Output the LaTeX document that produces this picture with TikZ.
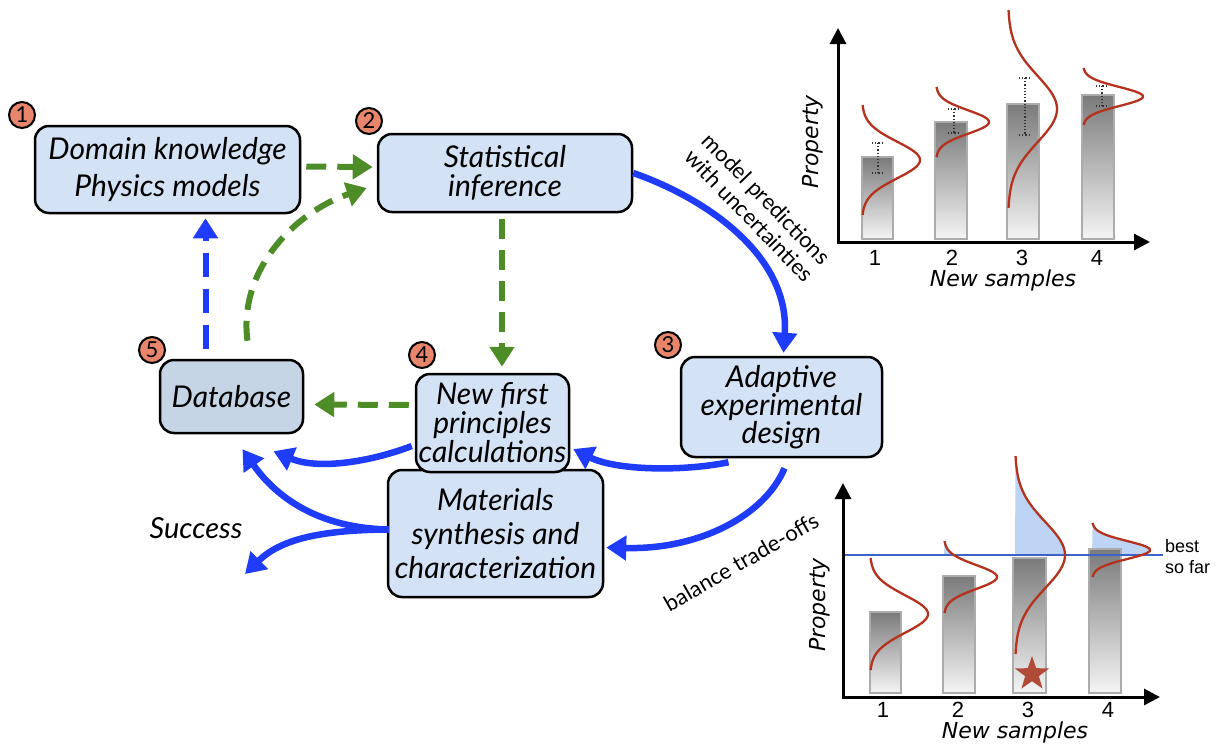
\documentclass[tikz,border=0pt]{standalone}
\usepackage{fontspec}
\setmainfont{Lato}
\newfontfamily\chartfont{DejaVu Sans}
\newfontfamily\arialfont{Liberation Sans}
\usetikzlibrary{arrows.meta,calc,shapes.geometric}
\definecolor{boxblue}{RGB}{212,226,245}
\definecolor{dbblue}{RGB}{197,213,230}
\definecolor{numfill}{RGB}{232,134,108}
\definecolor{arrblue}{RGB}{30,60,250}
\definecolor{arrgreen}{RGB}{78,140,40}
\definecolor{curvered}{RGB}{180,50,30}
\definecolor{shadeblue}{RGB}{190,212,245}
\definecolor{bestblue}{RGB}{60,100,200}
\definecolor{starred}{RGB}{175,75,55}
\newcommand\gausscurve[4]{\draw[gcurve] plot[domain=-3:3,samples=61,smooth,variable=\t] ({#1+#2*exp(-0.5*\t*\t)},{#3+#4*\t});}
\newcommand\gaussfill[5]{\fill[shadeblue] plot[domain=-3:#5,samples=40,smooth,variable=\t] ({#1+#2*exp(-0.5*\t*\t)},{#3+#4*\t}) -- (#1,{#3+#4*#5}) -- cycle;}
\begin{document}
\begin{tikzpicture}[x=1pt,y=-1pt,
  box/.style={draw=black, line width=2.5pt, rounded corners=14pt, fill=boxblue, align=center, inner sep=0pt},
  bf/.style={font=\fontsize{30}{#1}\selectfont\itshape},
  num/.style={circle, draw=black, line width=2pt, fill=numfill, minimum size=26pt, inner sep=0pt, font=\fontsize{22}{22}\selectfont},
  garrow/.style={draw=arrgreen, line width=6pt, dash pattern=on 20pt off 11pt, -{Triangle[length=20pt,width=24pt]}},
  barrow/.style={draw=arrblue, line width=6.5pt, -{Triangle[length=20pt,width=24pt]}},
  bdash/.style={draw=arrblue, line width=6pt, dash pattern=on 24pt off 12pt, -{Triangle[length=20pt,width=24pt]}},
  lbl/.style={font=\fontsize{22}{24}\selectfont, align=center},
  axis/.style={draw=black, line width=3pt, -{Triangle[length=16pt,width=16pt]}},
  barsh/.style={draw=gray!65, line width=2pt, top color=black!52, bottom color=black!4},
  gcurve/.style={draw=curvered, line width=2.3pt},
  errb/.style={draw=black!80, line width=1.2pt, dotted},
  tick/.style={font=\arialfont\fontsize{22}{22}\selectfont},
  axlbl/.style={font=\chartfont\itshape\fontsize{22}{22}\selectfont}
]
\useasboundingbox (0,0) rectangle (1220,744);

% ---------------- boxes ----------------
\node[box, bf=37, minimum width=265pt, minimum height=87pt] (b1) at (167.5,169.5) {Domain knowledge\\Physics models};
\node[box, bf=29, minimum width=254pt, minimum height=78pt] (b2) at (505,173) {Statistical\\inference};
\node[box, bf=28, minimum width=201pt, minimum height=100pt] (b3) at (781.5,407) {Adaptive\\experimental\\design};
\node[box, bf=34, minimum width=215pt, minimum height=127pt] (mat) at (495.5,533.5) {Materials\\synthesis and\\characterization};
\node[box, bf=29, minimum width=153pt, minimum height=98pt] (b4) at (492.5,423) {New first\\principles\\calculations};
\node[box, bf=30, fill=dbblue, minimum width=143pt, minimum height=73pt] (db) at (231.5,396.5) {Database};

% ---------------- numbers ----------------
\node[num] (n1) at (22,115) {1};
\node[num] (n2) at (369,121) {2};
\node[num] (n3) at (668,345) {3};
\node[num] (n4) at (422,355) {4};
\node[num] (n5) at (152,350) {5};

% ---------------- green dashed ----------------
\draw[garrow] ($(b1.east)+(5,-3)$) -- ($(b2.west)+(-4,-6)$);
\draw[garrow] ($(db.north)+(16,-18)$) .. controls (238,270) and (295,212) .. ($(b2.west)+(-10,15)$);
\draw[garrow] ($(b2.south)+(-3,6)$) -- ($(b4.north)+(9.5,-6)$);
\draw[garrow] ($(b4.west)+(-6,-18)$) -- ($(db.east)+(10,8)$);

% ---------------- blue dashed ----------------
\draw[bdash] ($(db.north)+(-26,-10)$) -- ($(b1.south)+(38,4)$);

% ---------------- blue solid ----------------
\draw[barrow] (b2.east) .. controls (705,198) and (790,255) .. ($(b3.north)+(2,-3)$);
\draw[barrow] ($(b3.south)+(-53,4)$) .. controls (680,472) and (615,470) .. ($(b4.east)+(3,26)$);
\draw[barrow] ($(b3.south)+(3,10)$) .. controls (765,515) and (700,550) .. ($(mat.east)+(2,14)$);
\draw[barrow] ($(b4.west)+(-3,23)$) .. controls (370,462) and (318,470) .. ($(db.south)+(42,17)$);
\coordinate (succ) at (245,574);
\draw[barrow] ($(mat.west)+(2,-4)$) .. controls (318,528) and (276,497) .. ($(db.south)+(11,15)$);
\draw[barrow] ($(mat.west)+(2,-4)$) .. controls (318,530) and (280,540) .. (succ);
\node[font=\fontsize{29}{29}\selectfont\itshape] (success) at (196,528) {Success};

% ---------------- labels ----------------
\node[lbl, rotate=-46] (mp) at (758,207) {model predictions\\with uncertainties};
\node[lbl, rotate=30] (bt) at (741,562) {balance trade-offs};

% ---------------- top chart ----------------
\draw[barsh] (862,157) rectangle (893,239);
\draw[barsh] (935,122) rectangle (967,239);
\draw[barsh] (1007,104) rectangle (1039,239);
\draw[barsh] (1082,95) rectangle (1114,239);
\draw[axis] (838,243.5) -- (838,28);
\draw[axis] (836.5,242) -- (1150,242);
\foreach \xx/\ya/\yb in {878/143/173, 954/109/133, 1025/78/135, 1102/86/106}{
  \draw[errb] (\xx,\ya) -- (\xx,\yb);
  \draw[errb] (\xx-6,\ya) -- (\xx+6,\ya);
  \draw[errb] (\xx-6,\yb) -- (\xx+6,\yb);
}
\gausscurve{862}{58}{160}{18.3}
\gausscurve{936}{53}{122}{11.7}
\gausscurve{1008}{49}{109}{33}
\gausscurve{1083}{60}{96.5}{9.5}
\node[tick] (t1a) at (875,258) {1};
\node[tick] (t2a) at (952,258) {2};
\node[tick] (t3a) at (1022,258) {3};
\node[tick] (t4a) at (1097,258) {4};
\node[axlbl] (nsa) at (1003,280) {New samples};
\node[axlbl, rotate=90] (pa) at (813,142) {Property};

% ---------------- bottom chart ----------------
\gaussfill{944}{53}{577}{12}{-1.83}
\gaussfill{1015}{50}{555}{33}{0}
\gaussfill{1092}{58}{550}{9}{0.56}
\draw[barsh] (870,612) rectangle (901,693);
\draw[barsh] (943,576) rectangle (975,693);
\draw[barsh] (1013,558) rectangle (1046,693);
\draw[barsh] (1089,549) rectangle (1121,693);
\draw[axis] (843,698.5) -- (843,483);
\draw[axis] (841.5,697) -- (1160,697);
\draw[draw=bestblue, line width=2pt] (845,555) -- (1163,555);
\gausscurve{870}{58}{614}{18.7}
\gausscurve{944}{53}{577}{12}
\gausscurve{1015}{50}{555}{33}
\gausscurve{1092}{58}{550}{9}
\node[star, star points=5, star point ratio=2.5, fill=starred, minimum size=36pt, inner sep=0pt] (star) at (1032,674) {};
\node[tick] (t1b) at (883,710) {1};
\node[tick] (t2b) at (958,710) {2};
\node[tick] (t3b) at (1028,710) {3};
\node[tick] (t4b) at (1108,710) {4};
\node[axlbl] (nsb) at (1015,732) {New samples};
\node[axlbl, rotate=90] (pb) at (820,605) {Property};
\node[font=\arialfont\fontsize{18}{21}\selectfont, align=left, anchor=west, inner sep=0pt] (best) at (1165,557) {best\\so far};
\end{tikzpicture}
\end{document}
